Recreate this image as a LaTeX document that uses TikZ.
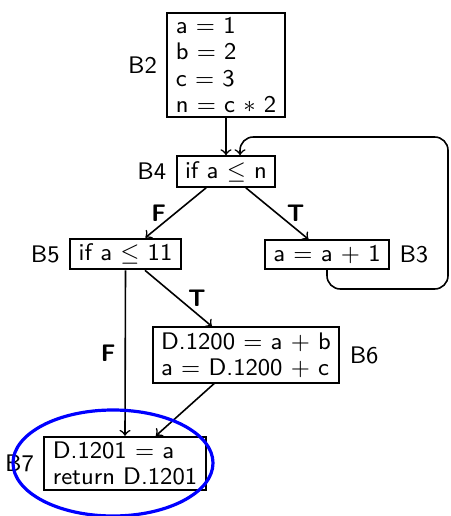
\documentclass[tikz,border=0pt]{standalone}
\usepackage{amsmath}
\usepackage{tikz}
\usetikzlibrary{positioning}

\begin{document}
\begin{tikzpicture}[
  x=0.0132cm, y=-0.0132cm,
  font=\sffamily\fontsize{9}{9.8}\selectfont,
  blk/.style={draw, line width=0.75pt, align=left, inner xsep=3.2pt, inner ysep=1.9pt},
  cond/.style={font=\sffamily\bfseries\fontsize{9}{9.8}\selectfont},
  edge/.style={->, line width=0.6pt}
]
  \useasboundingbox (0,0) rectangle (450,516);

  % blocks
  \node[blk] (b2) at (226,65) {a $=$ 1\\ b $=$ 2\\ c $=$ 3\\ n $=$ c $*$ 2};
  \node[left=0pt of b2] (l2) {B2};
  \node[blk] (b4) at (226,171.5) {if a $\leq$ n};
  \node[left=0pt of b4] (l4) {B4};
  \node[blk] (b5) at (125.5,254) {if a $\leq$ 11};
  \node[left=0pt of b5] (l5) {B5};
  \node[blk] (b3) at (327,254.5) {a $=$ a $+$ 1};
  \node[right=0pt of b3] (l3) {B3};
  \node[blk] (b6) at (246,355) {D.1200 $=$ a $+$ b\\ a $=$ D.1200 $+$ c};
  \node[right=0pt of b6] (l6) {B6};
  \node[blk] (b7) at (125,463.5) {D.1201 $=$ a\\ return D.1201};
  \node[left=0pt of b7] (l7) {B7};

  % edges
  \draw[edge] (b2) -- (b4);
  \draw[edge] (b4) -- node[left, cond] (f1) {F} (b5);
  \draw[edge] (b4) -- node[right, cond] (t1) {T} (b3);
  \draw[edge] (b5) -- node[right, cond] (t2) {T} (b6);
  \draw[edge] (b5.south) -- node[left, cond] (f2) {F} (b7.north);
  \draw[edge] (b6) -- (b7);

  % back edge
  \coordinate (lp1) at (448,289);
  \coordinate (lp2) at (448,137);
  \draw[edge, rounded corners=5pt] (b3.south) |- (lp1) -- (lp2) -| ([xshift=0.185cm]b4.north);

  \draw[blue, line width=1.2pt] (113,463) ellipse [x radius=100, y radius=53];
\end{tikzpicture}
\end{document}
